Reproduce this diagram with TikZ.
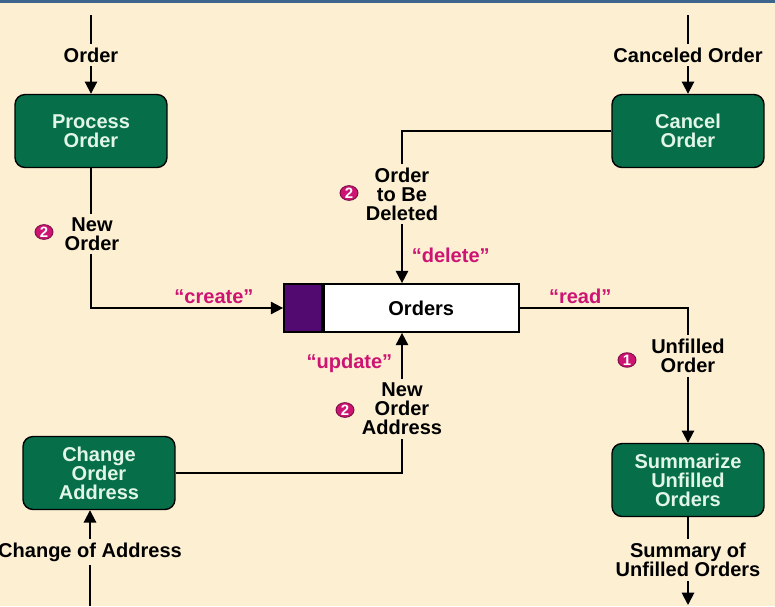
\documentclass[tikz,border=0pt]{standalone}
\usepackage{fontspec}
\setmainfont{Liberation Sans}
\usepackage{tikz}
\usetikzlibrary{shapes.geometric,arrows.meta,positioning,calc}
\definecolor{BoxGreen}{RGB}{6,110,72}
\definecolor{BoxText}{RGB}{225,246,232}
\definecolor{TagMagenta}{RGB}{205,20,115}
\definecolor{StorePurple}{RGB}{82,10,112}
\definecolor{PaperCream}{RGB}{252,239,210}
\definecolor{EdgeBlue}{RGB}{60,100,140}

\begin{document}
\begin{tikzpicture}[
  x=0.02cm, y=-0.02cm,
  process/.style={rectangle, rounded corners=0.2cm, draw=black, line width=0.8pt, fill=BoxGreen, text=BoxText, font=\fontsize{11.4}{10.9}\selectfont\bfseries, align=center, minimum width=3.04cm, minimum height=1.46cm},
  flowlabel/.style={font=\fontsize{11.4}{10.9}\selectfont\bfseries, align=center, inner sep=2pt},
  quote/.style={text=TagMagenta, font=\fontsize{11.4}{10.9}\selectfont\bfseries, inner sep=2pt},
  badge/.style={ellipse, fill=TagMagenta, draw=TagMagenta!60!black, line width=0.5pt, text=white, font=\fontsize{8.5}{8.5}\selectfont\bfseries, inner sep=0pt, minimum width=0.36cm, minimum height=0.28cm},
  storebox/.style={rectangle, draw=black, line width=1pt, fill=white, minimum width=3.9cm, minimum height=0.96cm, font=\fontsize{11.4}{10.9}\selectfont\bfseries},
  storetab/.style={rectangle, draw=black, line width=1pt, fill=StorePurple, minimum width=0.76cm, minimum height=0.96cm},
  flow/.style={line width=1.1pt},
  flowarrow/.style={line width=1.1pt, -{Triangle[length=7pt,width=7pt]}}
]

% Paper
\useasboundingbox (0,0) rectangle (775,606);
\fill[PaperCream] (0,0) rectangle (775,606);
\fill[EdgeBlue] (0,0) rectangle (775,3);

% Processes
\node[process] (process) at (91,131) {Process\\Order};
\node[process] (cancel) at (688,131) {Cancel\\Order};
\node[process] (change) at (99,473) {Change\\Order\\Address};
\node[process] (summarize) at (688,480) {Summarize\\Unfilled\\Orders};

% Data store
\node[storetab] (tab) at (303,308) {};
\node[storebox, right=0pt of tab] (orders) {Orders};

% Flow labels
\node[flowlabel] (order) at (91,55) {Order};
\node[flowlabel] (canceled) at (688,55) {Canceled Order};
\node[flowlabel] (neworder) at (92,234) {New\\Order};
\node[flowlabel] (deleted) at (402,194) {Order\\to Be\\Deleted};
\node[flowlabel] (unfilled) at (688,356) {Unfilled\\Order};
\node[flowlabel] (newaddress) at (402,409) {New\\Order\\Address};
\node[flowlabel] (address) at (90,552) {Change of Address};
\node[flowlabel] (summary) at (688,560) {Summary of\\Unfilled Orders};

% Numbered tags
\node[badge] (tag1) at (627,360) {1};
\node[badge] (tag2a) at (44,232) {2};
\node[badge] (tag2b) at (349,193) {2};
\node[badge] (tag2c) at (345,410) {2};

% Free ends
\coordinate (inorder) at (91,15);
\coordinate (incancel) at (688,15);
\coordinate (inaddress) at (90,606);
\coordinate (outsummary) at (688,605);

% Incoming flows
\draw[flow] (inorder) -- (order.north);
\draw[flowarrow] (order.south) -- (process.north);
\draw[flow] (incancel) -- (canceled.north);
\draw[flowarrow] (canceled.south) -- (cancel.north);
\draw[flow] (inaddress) -- (address.south);
\draw[flowarrow] (address.north) -- (address.north |- change.south);

% Create
\draw[flow] (process.south) -- (process.south |- neworder.north);
\draw[flowarrow] (process.south |- neworder.south) |- node[quote, above, pos=0.82] {“create”} (tab.west);

% Delete
\draw[flow] (cancel.west) -| (deleted.north);
\draw[flowarrow] (deleted.south) -- node[quote, right=3pt, pos=0.52] {“delete”} (deleted.south |- orders.north);

% Read
\draw[flow] (orders.east) -| node[quote, above, pos=0.18] {“read”} (unfilled.north);
\draw[flowarrow] (unfilled.south) -- (summarize.north);

% Update
\draw[flow] (change.east) -| (newaddress.south);
\draw[flowarrow] (newaddress.north) -- node[quote, left=3pt, pos=0.35] {“update”} (newaddress.north |- orders.south);

% Summary
\draw[flow] (summarize.south) -- (summary.north);
\draw[flowarrow] (summary.south) -- (outsummary);

\end{tikzpicture}
\end{document}
